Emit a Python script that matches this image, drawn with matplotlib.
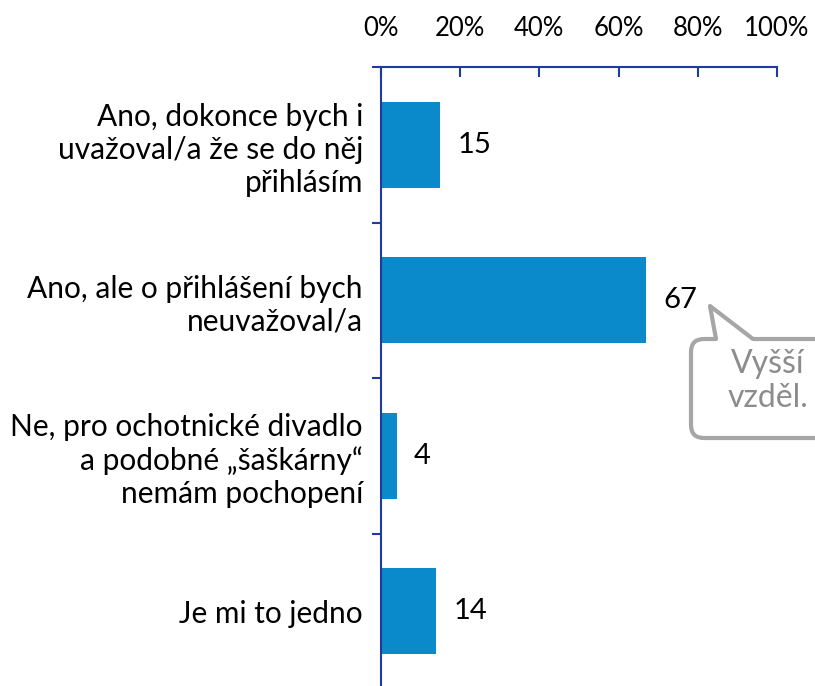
import matplotlib.pyplot as plt
import numpy as np
from matplotlib.path import Path
from matplotlib.patches import PathPatch

categories = [
    "Ano, dokonce bych i\nuvažoval/a že se do něj\npřihlásím",
    "Ano, ale o přihlášení bych\nneuvažoval/a",
    "Ne, pro ochotnické divadlo\na podobné „šaškárny“\nnemám pochopení",
    "Je mi to jedno",
]
values = [15, 67, 4, 14]
xticks = [0, 20, 40, 60, 80, 100]
xticklabels = ["0%", "20%", "40%", "60%", "80%", "100%"]
callout_text = "Vyšší\nvzděl."

plt.rcParams['font.family'] = ['Lato', 'DejaVu Sans']

W, H = 815, 686
fig = plt.figure(figsize=(W / 100, H / 100), dpi=100)
ax = fig.add_axes([381 / W, -3 / H, 396 / W, (689 - 67) / H])

axis_col = '#1F3C9A'
bar_col = '#0A8ACB'

y = np.arange(len(categories))
ax.barh(y, values, height=0.55, color=bar_col)
for yi, v in zip(y, values):
    ax.text(v + 4.3, yi, str(v), va='center', ha='left', fontsize=21, color='black')

ax.set_xlim(0, 100)
ax.set_ylim(len(categories) - 0.5, -0.5)

ax.xaxis.tick_top()
ax.set_xticks(xticks)
ax.set_xticklabels(xticklabels)
ax.tick_params(axis='x', direction='in', length=7.5, width=1.5, color=axis_col,
               labelsize=18.5, pad=19)

ax.set_yticks(y)
ax.set_yticklabels(categories, fontsize=21.5, linespacing=1.22)
ax.tick_params(axis='y', which='major', length=0, pad=13)
ax.set_yticks(np.arange(-0.5, len(categories) + 0.5, 1), minor=True)
ax.tick_params(axis='y', which='minor', direction='out', length=6.5, width=1.5, color=axis_col)

for s in ['right', 'bottom']:
    ax.spines[s].set_visible(False)
for s in ['top', 'left']:
    ax.spines[s].set_color(axis_col)
    ax.spines[s].set_linewidth(1.5)

# speech bubble callout (figure pixels, y from top)
def fp(x, yy):
    return (x / W, 1 - yy / H)

r = 13
L, T, R, B = 691, 339, 840, 438
verts = [
    fp(L + r, T), fp(716, T), fp(710, 306), fp(753, T), fp(R, T),
    fp(R, B), fp(L + r, B),
    fp(L, B), fp(L, B - r),
    fp(L, T + r),
    fp(L, T), fp(L + r, T),
]
codes = [Path.MOVETO, Path.LINETO, Path.LINETO, Path.LINETO, Path.LINETO,
         Path.LINETO, Path.LINETO,
         Path.CURVE3, Path.CURVE3,
         Path.LINETO,
         Path.CURVE3, Path.CURVE3]
bubble = PathPatch(Path(verts, codes), transform=fig.transFigure, facecolor='white',
                   edgecolor='#A6A6A6', linewidth=3, joinstyle='round')
fig.patches.append(bubble)
fig.text(768 / W, 1 - 381 / H, callout_text, ha='center', va='center', fontsize=23,
         color='#8C8C8C', linespacing=1.15)

fig.savefig('out.png', dpi=100)
